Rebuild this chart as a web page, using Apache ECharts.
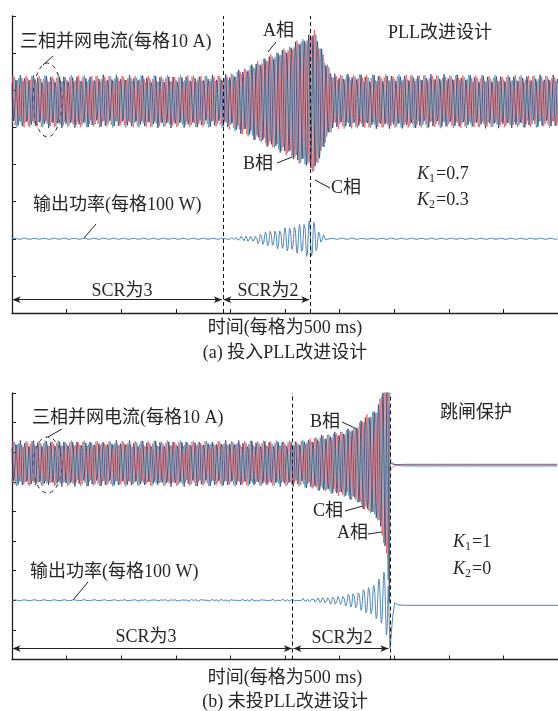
<!DOCTYPE html>
<html><head><meta charset="utf-8">
<script src="https://cdn.jsdelivr.net/npm/echarts@6/dist/echarts.min.js"></script>
<style>html,body{margin:0;padding:0;background:#fff}#c{width:558px;height:711px}</style>
</head><body><div id="c"></div>
<script>
// ---------- data ----------
// time in seconds (axis: 500 ms per division), current in A (10 A / div), power in W (100 W / div)
const eventsA = [1.928, 2.733];          // SCR 3 -> 2, end of SCR 2 (panel a)
const eventsB = [2.569, 3.457];          // SCR 3 -> 2, trip (panel b)

// steady current peak (A) and its ripple component
const curSteadyA = 6.4, curSteadyB = 7.1, curRipple = 0.8;
// panel (a): extra oscillation amplitude on the currents (A) vs time
const oscTA = [0, 1.93, 2.02, 2.20, 2.34, 2.45, 2.56, 2.61, 2.70, 2.77, 2.82, 2.88, 2.94, 5.0];
const oscIA = [0, 0, 0.7, 3.0, 5.1, 6.6, 8.1, 9.4, 10.4, 12.4, 8.2, 3.7, 0.3, 0];
// panel (a): power oscillation envelope (W)
const powEnvTA = [0, 1.93, 2.0, 2.166, 2.326, 2.486, 2.651, 2.715, 2.761, 2.812, 2.876, 2.941, 5.0];
const powEnvPA = [0, 0, 2, 9, 19, 29, 40, 51, 51, 19, 5, 0, 0];

// panel (b): extra oscillation amplitude on the currents
const oscTB = [0, 2.57, 2.66, 2.816, 2.972, 3.063, 3.155, 3.246, 3.338, 3.384, 3.43, 3.457];
const oscIB = [0, 0, 0.3, 1.6, 3.0, 3.8, 5.4, 8.6, 10.6, 15.5, 24, 40];
// panel (b): after trip, currents settle (A, relative to pre-trip centre)
const postStartB = [-2.9, 1.8, 0.3];
const postFinalB = [-0.24, -0.9, -0.5];
// panel (b): power oscillation envelope
const powEnvTB = [0, 2.57, 2.742, 2.898, 3.054, 3.164, 3.237, 3.329, 3.393, 3.43];
const powEnvPB = [0, 3.4, 6.8, 13.5, 20, 30, 44, 61, 88, 118];
// panel (b): power around the trip (W, relative)
const powTripT = [3.462, 3.485, 3.505, 3.53, 3.6, 5.0];
const powTripP = [-162, -60, -8, -15, -17, -17];

const curFreq = 25, rippleFreq = 33;   // apparent carrier / ripple of current traces (Hz)
const oscFreqA = 22.5, oscFreqB = 21.5; // sub-synchronous power oscillation (Hz)
const powRipple = 1.6, powRippleFreq = 11;
const curBaseA = 5.7, powBaseA = 2;   // trace baselines in divisions
const curBaseB = 6.62, powBaseB = 2;

// ---------- build series ----------
function env(ts, vs, t){
  if (t <= ts[0]) return vs[0];
  for (let i=1;i<ts.length;i++){ if (t<=ts[i]){ const f=(t-ts[i-1])/(ts[i]-ts[i-1]); return vs[i-1]+f*(vs[i]-vs[i-1]); } }
  return vs[vs.length-1];
}
const DT = 0.002, TW = 2*Math.PI, PH = TW/3;
function phaseCurrent(t,k,steady,oscT,oscI){
  return (steady + env(oscT,oscI,t))*Math.sin(TW*curFreq*t - k*PH) + curRipple*Math.sin(TW*rippleFreq*t + k*PH);
}
function curA(k){
  const d=[]; for(let t=0;t<=5.0001;t+=DT){ d.push([t, curBaseA + phaseCurrent(t,k,curSteadyA,oscTA,oscIA)/10]); } return d;
}
function powA(){
  const d=[]; for(let t=0;t<=5.0001;t+=DT/2){ const p = powRipple*Math.sin(TW*powRippleFreq*t) + env(powEnvTA,powEnvPA,t)*Math.sin(TW*oscFreqA*t); d.push([t, powBaseA + p/100]); } return d;
}
function curB(k){
  const d=[]; for(let t=0;t<=eventsB[1];t+=DT){ d.push([t, curBaseB + phaseCurrent(t,k,curSteadyB,oscTB,oscIB)/10]); }
  for(let t=eventsB[1]+0.004;t<=5.0001;t+=DT){ const v = postFinalB[k] + (postStartB[k]-postFinalB[k])*Math.exp(-(t-eventsB[1])/0.03); d.push([t, curBaseB + v/10]); }
  return d;
}
function powB(){
  const d=[]; for(let t=0;t<=3.445;t+=DT/2){ const p = powRipple*Math.sin(TW*powRippleFreq*t) + env(powEnvTB,powEnvPB,t)*Math.sin(TW*oscFreqB*t); d.push([t, powBaseB + p/100]); }
  for(let i=0;i<powTripT.length;i++) d.push([powTripT[i], powBaseB + powTripP[i]/100]);
  return d;
}

const phaseColors = ['#e8464f', '#3b98b2', '#3a3566']; // A red, B teal, C navy
const phaseOpacity = [0.85, 0.9, 0.88];
const phaseWidth = [0.8, 0.8, 0.9];
const drawOrder = [1,0,2];
const FONT = '"Liberation Serif","Noto Sans CJK SC",serif';
const TXT = '#262626';

function axisX(gi){ return {type:'value', gridIndex:gi, min:0, max:5, interval:0.5,
  axisLine:{show:true, onZero:false, lineStyle:{color:'#222', width:1.3}},
  axisTick:{show:true, inside:true, length:4, lineStyle:{color:'#222', width:1}},
  axisLabel:{show:false}, splitLine:{show:false}}; }
function axisY(gi,max){ return {type:'value', gridIndex:gi, min:0, max:max, interval:1,
  axisLine:{show:true, onZero:false, lineStyle:{color:'#222', width:1.3}},
  axisTick:{show:true, inside:true, length:4, lineStyle:{color:'#222', width:1}},
  axisLabel:{show:false}, splitLine:{show:false}}; }

const series = [];
drawOrder.forEach(k=>series.push({type:'line', xAxisIndex:0, yAxisIndex:0, data:curA(k), showSymbol:false, silent:true,
  lineStyle:{color:phaseColors[k], width:phaseWidth[k], opacity:phaseOpacity[k]}, animation:false}));
drawOrder.forEach(k=>series.push({type:'line', xAxisIndex:1, yAxisIndex:1, data:curB(k), showSymbol:false, silent:true,
  lineStyle:{color:phaseColors[k], width:phaseWidth[k], opacity:phaseOpacity[k]}, animation:false}));

const dashLine = {type:[4,3], color:'#111', width:1};
const arrowLine = {type:'solid', color:'#222', width:1};
function marks(ev){
  return {silent:true, symbol:'none', label:{show:false}, lineStyle:dashLine, animation:false,
    data: ev.map(v=>({xAxis:v}))};
}
series.push({type:'line', xAxisIndex:0, yAxisIndex:0, data:powA(), showSymbol:false, silent:true,
  lineStyle:{color:'#4f87ba', width:1}, animation:false, markLine:marks(eventsA)});
series.push({type:'line', xAxisIndex:1, yAxisIndex:1, data:powB(), showSymbol:false, silent:true,
  lineStyle:{color:'#4f87ba', width:1}, animation:false, markLine:marks(eventsB)});
// arrows
function arrows(gi, ev, y){
  return {type:'line', xAxisIndex:gi, yAxisIndex:gi, data:[], silent:true, animation:false,
    markLine:{silent:true, symbol:['arrow','arrow'], symbolSize:[5,8], label:{show:false}, lineStyle:arrowLine, animation:false,
      data:[[{coord:[0.005,y]},{coord:[ev[0]-0.006,y]}],[{coord:[ev[0]+0.008,y]},{coord:[ev[1]-0.01,y]}]]}};
}
series.push(arrows(0, eventsA, 0.36));
series.push(arrows(1, eventsB, 0.37));

function txt(x,y,s,o){ o=o||{}; return {type:'text', x:x, y:y, silent:true, style:Object.assign({text:s, fontSize:18, fontFamily:FONT, fill:TXT, align:'left', verticalAlign:'middle'}, o)}; }
function ln(x1,y1,x2,y2){ return {type:'line', silent:true, shape:{x1,y1,x2,y2}, style:{stroke:'#222', lineWidth:1}}; }
function kLabel(x,y,sub,val){ return [
  txt(x,y,'K',{fontStyle:'italic'}), txt(x+12,y+5,sub,{fontSize:12}), txt(x+19,y,val)]; }

const graphic = [
  txt(20,42,'三相并网电流(每格10 A)'),
  {type:'ellipse', silent:true, shape:{cx:47.5, cy:100, rx:14.5, ry:37}, style:{fill:null, stroke:'#222', lineWidth:1, lineDash:[4,4]}},
  ln(43,65,53,56),
  txt(263,31,'A相'), ln(268,52,276,42),
  txt(388,33,'PLL改进设计'),
  txt(243,164,'B相'), ln(277,163,292,157),
  txt(331,188,'C相'), ln(315,180,330,188),
  ...kLabel(417,174,'1','=0.7'),
  ...kLabel(417,200,'2','=0.3'),
  txt(33,205,'输出功率(每格100 W)'), ln(84,238,96,224),
  txt(122,291,'SCR为3',{align:'center'}),
  txt(268,291,'SCR为2',{align:'center'}),
  txt(285,328,'时间(每格为500 ms)',{align:'center'}),
  txt(285,353,'(a) 投入PLL改进设计',{align:'center'}),

  txt(32,418,'三相并网电流(每格10 A)'),
  {type:'ellipse', silent:true, shape:{cx:47.5, cy:465, rx:14.5, ry:28}, style:{fill:null, stroke:'#222', lineWidth:1, lineDash:[4,4]}},
  ln(48,437,62,429),
  txt(310,422,'B相'), ln(342,422,357,429),
  txt(313,511,'C相'), ln(345,511,363,506),
  txt(337,533,'A相'), ln(368,534,382,532),
  txt(440,413,'跳闸保护'),
  ...kLabel(453,542,'1','=1'),
  ...kLabel(453,569,'2','=0'),
  txt(30,572,'输出功率(每格100 W)'), ln(73,600,88,582),
  txt(146,637,'SCR为3',{align:'center'}),
  txt(342,638,'SCR为2',{align:'center'}),
  txt(285,678,'时间(每格为500 ms)',{align:'center'}),
  txt(285,702,'(b) 未投PLL改进设计',{align:'center'})
];

const chart = echarts.init(document.getElementById('c'), null, {renderer:'canvas'});
chart.setOption({
  animation:false,
  backgroundColor:'#fff',
  grid:[{left:12, top:16, width:546, height:297}, {left:12, top:393, width:546, height:266.5}],
  xAxis:[axisX(0), axisX(1)],
  yAxis:[axisY(0,8), axisY(1,9)],
  series: series,
  graphic: graphic
});
</script></body></html>
